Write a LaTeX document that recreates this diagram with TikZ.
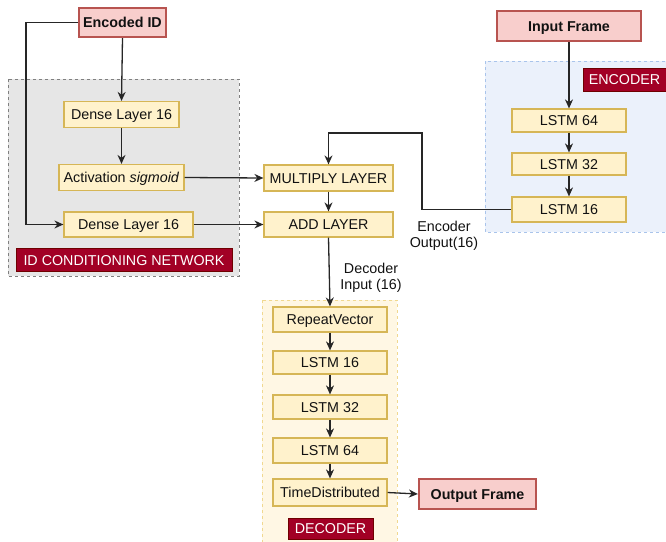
\documentclass[tikz,border=0pt]{standalone}
\usepackage{fontspec}
\setmainfont{Liberation Sans}
\usetikzlibrary{arrows.meta}
\definecolor{yfill}{HTML}{FFF2CC}
\definecolor{ydraw}{HTML}{D6B656}
\definecolor{rfill}{HTML}{F8CECC}
\definecolor{rdraw}{HTML}{B85450}
\definecolor{labfill}{HTML}{A20025}
\definecolor{labdraw}{HTML}{6F0000}
\definecolor{grayfill}{HTML}{E6E6E6}
\definecolor{graydraw}{HTML}{808080}
\definecolor{bluefill}{HTML}{EBF1FB}
\definecolor{bluedraw}{HTML}{A9C4EB}
\definecolor{decfill}{HTML}{FFF7E4}
\definecolor{decdraw}{HTML}{F0D890}
\definecolor{txt}{HTML}{111111}
\begin{document}
\begin{tikzpicture}[x=1pt,y=-1pt,
  every node/.style={font=\fontsize{14.3}{16}\selectfont, text=txt, inner sep=0pt},
  boxed/.style={text height=10.3pt, text depth=0pt},
  layer/.style={boxed, draw=ydraw, fill=yfill, line width=1.2pt, minimum width=#1},
  layer/.default=114pt,
  io/.style={boxed, draw=rdraw, fill=rfill, line width=2.2pt, font=\fontsize{14.3}{16}\selectfont\bfseries},
  tag/.style={boxed, draw=labdraw, fill=labfill, text=white, line width=0.6pt},
  region/.style={dashed, line width=0.9pt},
  arr/.style={-{Stealth[length=9pt,width=8pt]}, line width=1.3pt, draw=black!85},
  note/.style={align=center}]
\useasboundingbox (0,0) rectangle (666,541);
% regions
\path[region, fill=grayfill, draw=graydraw] (8,79) rectangle (239,276);
\path[region, fill=bluefill, draw=bluedraw] (485,61) rectangle (668,232);
\path[region, fill=decfill, draw=decdraw] (262,300) rectangle (397,545);
% ID conditioning network
\node[io, minimum width=87pt, minimum height=29pt] (enc) at (122.5,22.5) {Encoded ID};
\node[layer=115pt, minimum height=26pt] (d1) at (121.5,114.5) {Dense Layer 16};
\node[layer=125pt, minimum height=26pt] (act) at (121.5,177.5) {Activation \textit{sigmoid}};
\node[layer=129pt, minimum height=25pt] (d2) at (128.5,224.5) {Dense Layer 16};
\node[tag, minimum width=216pt, minimum height=23pt] (idlab) at (124,260) {ID CONDITIONING NETWORK};
% middle
\node[layer=129pt, minimum height=26pt] (mul) at (328.5,178) {MULTIPLY LAYER};
\node[layer=129pt, minimum height=25pt] (add) at (328.5,224.5) {ADD LAYER};
% encoder
\node[io, minimum width=144pt, minimum height=30pt] (inp) at (569,26) {Input Frame};
\node[tag, minimum width=83pt, minimum height=23pt] (enclab) at (624.5,79.5) {ENCODER};
\node[layer, minimum height=23pt] (l64) at (569,120.5) {LSTM 64};
\node[layer, minimum height=22pt] (l32) at (569,164) {LSTM 32};
\node[layer, minimum height=25pt] (l16) at (569,209.5) {LSTM 16};
% decoder
\node[layer, minimum height=25pt] (rv) at (330,319.5) {RepeatVector};
\node[layer, minimum height=23pt] (dl16) at (330,362.5) {LSTM 16};
\node[layer, minimum height=24pt] (dl32) at (330,407) {LSTM 32};
\node[layer, minimum height=25pt] (dl64) at (330,450.5) {LSTM 64};
\node[layer, minimum height=27pt] (td) at (330,492.5) {TimeDistributed};
\node[io, minimum width=117pt, minimum height=30pt] (out) at (477.5,494) {Output Frame};
\node[tag, minimum width=85pt, minimum height=21pt] (declab) at (330.5,528.5) {DECODER};
% text labels
\node[note] (eo) at (444,236) {Encoder\\Output(16)};
\node[note] (di) at (371,278) {Decoder\\Input (16)};
% connectors
\coordinate (lc) at (26,22.5);
\coordinate (ec) at (422,133);
\draw[arr] (enc.south) -- (d1.north);
\draw[arr] (d1.south) -- (act.north);
\draw[arr] (enc.west) -- (lc) |- (d2.west);
\draw[arr] (act.east) -- (mul.west);
\draw[arr] (d2.east) -- (add.west);
\draw[arr] (mul.south) -- (add.north);
\draw[arr] (l16.west) -| (ec) -| (mul.north);
\draw[arr] (inp.south) -- (l64.north);
\draw[arr] (l64.south) -- (l32.north);
\draw[arr] (l32.south) -- (l16.north);
\draw[arr] (add.south) -- (rv.north);
\draw[arr] (rv.south) -- (dl16.north);
\draw[arr] (dl16.south) -- (dl32.north);
\draw[arr] (dl32.south) -- (dl64.north);
\draw[arr] (dl64.south) -- (td.north);
\draw[arr] (td.east) -- (out.west);
\end{tikzpicture}
\end{document}
